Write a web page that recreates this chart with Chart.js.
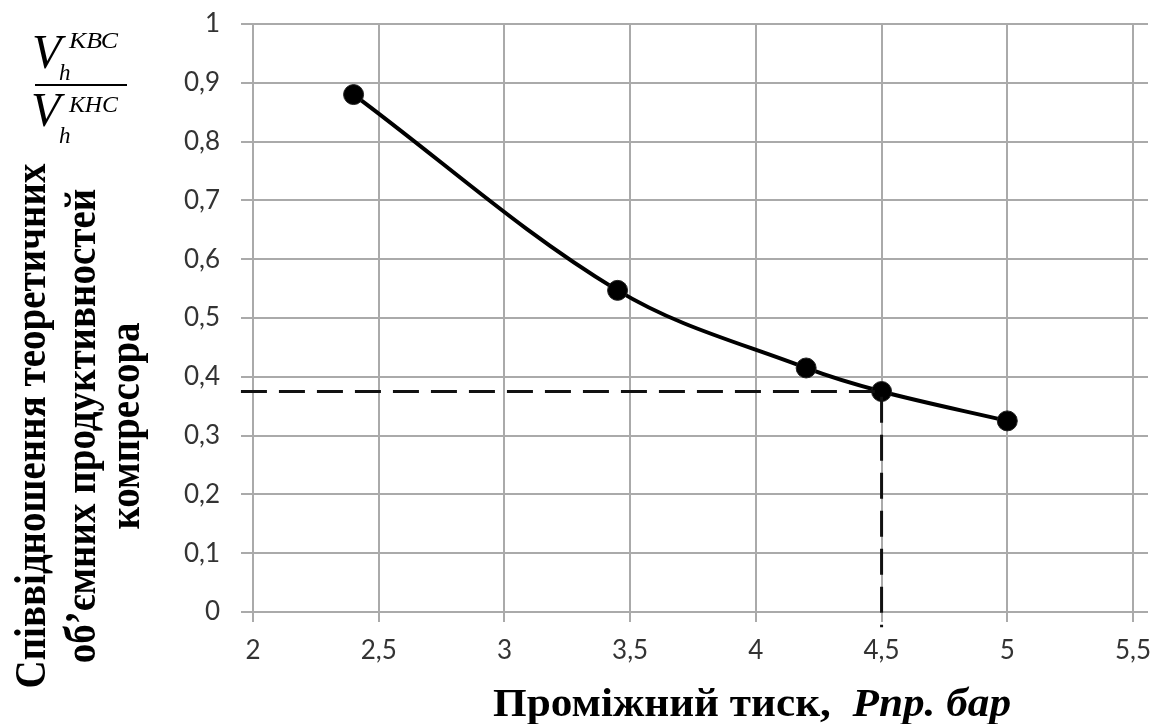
<!DOCTYPE html>
<html>
<head>
<meta charset="utf-8">
<script src="https://cdn.jsdelivr.net/npm/chart.js@4.4.1/dist/chart.umd.min.js"></script>
<style>
  body { margin: 0; background: #fff; }
  #wrap { width: 1164px; height: 724px; }
</style>
</head>
<body>
<div id="wrap"><canvas id="myChart" width="1164" height="724"></canvas></div>
<script>
// дані кривої
const tiskValues = [2.4, 3.45, 4.2, 4.5, 5.0];
const vidnoshennyaValues = [0.88, 0.547, 0.415, 0.375, 0.325];

// пунктирна допоміжна лінія (робоча точка 4,5 бар)
const guideXs = [1.952, 4.5, 4.5];
const guideYs = [0.375, 0.375, -0.026];

const xTickLabels = ["2", "2,5", "3", "3,5", "4", "4,5", "5", "5,5"];
const yTickLabels = ["0", "0,1", "0,2", "0,3", "0,4", "0,5", "0,6", "0,7", "0,8", "0,9", "1"];

const yTitleLines = [
  "Співвідношення теоретичних",
  "об\u2019ємних продуктивностей",
  "компресора",
];
const xTitleMain = "Проміжний тиск,  ";
const xTitleUnit = "Рпр. бар";

const gridColor = "#aaaaaa";

function fitText(ctx, text, x, y, width) {
  const w = ctx.measureText(text).width;
  ctx.save();
  ctx.translate(x, y);
  ctx.scale(width / w, 1);
  ctx.fillText(text, 0, 0);
  ctx.restore();
}

const titlesPlugin = {
  id: "titles",
  afterDraw(chart) {
    const ctx = chart.ctx;
    ctx.save();
    ctx.fillStyle = "#000";
    ctx.textBaseline = "alphabetic";
    ctx.textAlign = "left";

    // підпис осі Y (три рядки, повернуті)
    ctx.font = "bold 44px 'Liberation Serif'";
    const s = 525 / ctx.measureText(yTitleLines[0]).width;
    const baseX = [45, 95, 139];
    const centerY = 426;
    yTitleLines.forEach((line, i) => {
      const w = ctx.measureText(line).width * s;
      ctx.save();
      ctx.translate(baseX[i], centerY);
      ctx.rotate(-Math.PI / 2);
      ctx.scale(s, 1);
      ctx.fillText(line, -w / 2 / s, 0);
      ctx.restore();
    });

    // підпис осі X
    ctx.font = "bold 40px 'Liberation Serif'";
    const wa = ctx.measureText(xTitleMain).width;
    ctx.font = "bold italic 40px 'Liberation Serif'";
    const wb = ctx.measureText(xTitleUnit).width;
    const k = 518 / (wa + wb);
    const left = 493;
    ctx.font = "bold 40px 'Liberation Serif'";
    fitText(ctx, xTitleMain, left, 716, wa * k);
    ctx.font = "bold italic 40px 'Liberation Serif'";
    fitText(ctx, xTitleUnit, left + wa * k, 716, wb * k);

    // дріб V_h^КВС / V_h^КНС
    ctx.font = "italic 48px 'Liberation Serif'";
    ctx.fillText("V", 32, 68);
    ctx.fillText("V", 31, 126);
    ctx.font = "italic 23px 'Liberation Serif'";
    fitText(ctx, "КВС", 69, 48, 49);
    fitText(ctx, "КНС", 69, 112, 49);
    ctx.fillText("h", 59, 80);
    ctx.fillText("h", 59, 143);
    ctx.fillRect(35, 84, 92, 2);
    ctx.restore();
  },
};

const ctx = document.getElementById("myChart").getContext("2d");
new Chart(ctx, {
  type: "line",
  data: {
    datasets: [
      {
        data: guideXs.map((x, i) => ({ x: x, y: guideYs[i] })),
        borderColor: "#111",
        borderWidth: 3,
        borderDash: [26, 12],
        pointRadius: 0,
        tension: 0,
        clip: false,
      },
      {
        data: tiskValues.map((x, i) => ({ x: x, y: vidnoshennyaValues[i] })),
        borderColor: "#000",
        borderWidth: 4,
        tension: 0.35,
        pointRadius: 10,
        pointBackgroundColor: "#000",
        pointBorderColor: "#222",
        pointBorderWidth: 1,
        clip: false,
      },
    ],
  },
  options: {
    responsive: false,
    animation: false,
    layout: { autoPadding: false, padding: { top: 24, left: 0, right: 0, bottom: 0 } },
    plugins: {
      legend: { display: false },
      tooltip: { enabled: false },
    },
    scales: {
      x: {
        type: "linear",
        min: 2,
        max: 5.5,
        ticks: {
          stepSize: 0.5,
          padding: 13,
          color: "#333",
          font: { family: "Lato", size: 26 },
          callback: (v, i) => xTickLabels[i],
        },
        grid: { color: gridColor, lineWidth: 2, tickLength: 10 },
        border: { color: gridColor, width: 2 },
        afterFit: (scale) => {
          scale.height = 112;
          scale.paddingLeft = 0;
          scale.paddingRight = 0;
        },
      },
      y: {
        min: 0,
        max: 1,
        ticks: {
          stepSize: 0.1,
          padding: 21,
          color: "#333",
          font: { family: "Lato", size: 26 },
          callback: (v, i) => yTickLabels[i],
        },
        grid: { color: gridColor, lineWidth: 2, tickLength: 12 },
        border: { color: gridColor, width: 2 },
        afterFit: (scale) => {
          scale.width = 253;
          scale.paddingTop = 0;
          scale.paddingBottom = 0;
        },
      },
      y2: {
        position: "right",
        min: 0,
        max: 1,
        ticks: { stepSize: 0.1, display: false },
        grid: { color: gridColor, lineWidth: 2, tickLength: 15, drawOnChartArea: false },
        border: { display: false },
        afterFit: (scale) => {
          scale.width = 31;
          scale.paddingTop = 0;
          scale.paddingBottom = 0;
        },
      },
    },
  },
  plugins: [titlesPlugin],
});
</script>
</body>
</html>
